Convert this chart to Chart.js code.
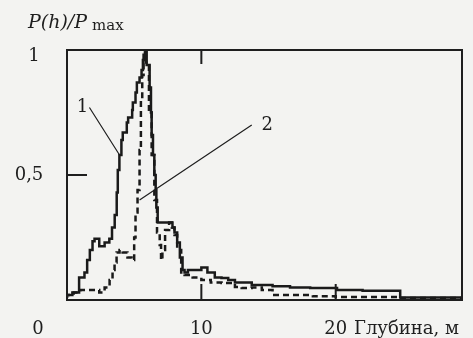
<!DOCTYPE html>
<html>
<head>
<meta charset="utf-8">
<script src="https://cdn.jsdelivr.net/npm/chart.js@4.4.1/dist/chart.umd.min.js"></script>
<style>
  html, body { margin: 0; padding: 0; background: #f3f3f1; }
  #wrap { width: 473px; height: 338px; position: relative; }
</style>
</head>
<body>
<div id="wrap"><canvas id="myChart"></canvas></div>
<script>
'use strict';

// ********** DATA **********

// curve 1 (solid), step values: depth where value starts, P(h)/Pmax
let solidDepth = [0, 0.4, 0.9, 1.3, 1.5, 1.7, 1.9, 2.05, 2.4, 2.8, 3.15, 3.35, 3.55, 3.7, 3.78, 3.9,
  4.05, 4.15, 4.45, 4.55, 4.85, 4.9, 5.1, 5.2, 5.4, 5.55, 5.65, 5.8, 5.87, 5.93, 6.15, 6.25, 6.3,
  6.4, 6.5, 6.6, 6.65, 6.75, 6.9, 7.85, 8.0, 8.2, 8.4, 8.6, 8.75, 9.0, 10.0, 10.45, 11.0, 11.5,
  12.0, 12.5, 13.75, 15.3, 16.6, 18.1, 20.1, 22.0, 24.8, 25.2, 29.4];
let solidValue = [0.01, 0.02, 0.03, 0.09, 0.11, 0.16, 0.2, 0.235, 0.245, 0.215, 0.23, 0.245, 0.29, 0.34, 0.43, 0.52,
  0.58, 0.64, 0.67, 0.71, 0.73, 0.76, 0.79, 0.83, 0.87, 0.89, 0.92, 0.96, 0.99, 1.0, 0.94, 0.85, 0.75,
  0.66, 0.58, 0.5, 0.44, 0.37, 0.31, 0.31, 0.29, 0.27, 0.23, 0.17, 0.12, 0.11, 0.12, 0.13, 0.11, 0.09,
  0.088, 0.08, 0.07, 0.06, 0.055, 0.05, 0.048, 0.04, 0.037, 0.01, 0.01];

// curve 2 (dashed)
let dashDepth = [0, 0.5, 1.0, 2.4, 2.8, 3.17, 3.39, 3.54, 3.69, 3.91, 4.14, 4.5, 4.8, 5.0, 5.1, 5.25,
  5.4, 5.5, 5.6, 5.7, 5.85, 6.1, 6.3, 6.5, 6.7, 6.9, 7.0, 7.1, 7.3, 7.6, 7.8, 8.0, 8.2, 8.5, 8.75,
  9.35, 10.0, 10.7, 11.5, 12.5, 13.0, 13.75, 14.5, 15.3, 15.6, 17.1, 18.3, 20.0, 21.3, 24.6, 25.0, 29.4];
let dashValue = [0.008, 0.02, 0.03, 0.04, 0.03, 0.05, 0.08, 0.12, 0.15, 0.19, 0.2, 0.19, 0.17, 0.16, 0.25, 0.35,
  0.44, 0.6, 0.8, 0.9, 1.0, 0.95, 0.75, 0.58, 0.4, 0.27, 0.22, 0.16, 0.2, 0.28, 0.31, 0.29, 0.26, 0.2, 0.11,
  0.1, 0.09, 0.08, 0.07, 0.068, 0.052, 0.048, 0.05, 0.04, 0.02, 0.02, 0.02, 0.015, 0.012, 0.012, 0.008, 0.008];

// tick labels
let xTicks = [0, 10, 20];
let yTicks = [0.5, 1];
let yTickText = ['0,5', '1'];
let xTitle = 'Глубина, м';

// ********** HELPER FUNCTIONS **********

function toPoints(xs, ys) {
  let pts = [];
  for (let i = 0; i < xs.length; i++) {
    pts.push({x: xs[i], y: ys[i]});
  }
  return pts;
}

// frame, inner ticks, labels and pointers
const framePlugin = {
  id: 'frame',
  afterDatasetsDraw(chart) {
    let ctx = chart.ctx;
    let a = chart.chartArea;
    let sx = chart.scales.x;
    let sy = chart.scales.y;
    ctx.save();
    ctx.strokeStyle = '#1e1e1e';
    ctx.lineWidth = 2;
    ctx.strokeRect(a.left, a.top, a.right - a.left, a.bottom - a.top);

    // inner tick marks
    ctx.beginPath();
    [10, 20].forEach(v => {
      let px = sx.getPixelForValue(v);
      ctx.moveTo(px, a.bottom); ctx.lineTo(px, a.bottom - 16);
    });
    let tx = sx.getPixelForValue(10);
    ctx.moveTo(tx, a.top); ctx.lineTo(tx, a.top + 14);
    let ty = sy.getPixelForValue(0.5);
    ctx.moveTo(a.left, ty); ctx.lineTo(a.left + 20, ty);
    ctx.stroke();

    // pointer lines for curve labels
    ctx.lineWidth = 1.2;
    ctx.beginPath();
    ctx.moveTo(sx.getPixelForValue(1.67), sy.getPixelForValue(0.77));
    ctx.lineTo(sx.getPixelForValue(3.91), sy.getPixelForValue(0.58));
    ctx.moveTo(sx.getPixelForValue(5.4), sy.getPixelForValue(0.40));
    ctx.lineTo(sx.getPixelForValue(13.75), sy.getPixelForValue(0.70));
    ctx.stroke();

    ctx.fillStyle = '#1e1e1e';
    ctx.textBaseline = 'middle';
    ctx.textAlign = 'center';
    ctx.font = '18px "DejaVu Serif"';
    ctx.fillText('1', sx.getPixelForValue(1.16), sy.getPixelForValue(0.77));
    ctx.fillText('2', sx.getPixelForValue(14.9), sy.getPixelForValue(0.70));

    // x tick labels (the 0 sits left of the axis in the original)
    xTicks.forEach(v => {
      let px = sx.getPixelForValue(v);
      if (v === 0) px -= 29;
      ctx.fillText(String(v), px, a.bottom + 29);
    });
    ctx.textAlign = 'left';
    ctx.font = '18px "DejaVu Serif"';
    ctx.fillText(xTitle, 354, a.bottom + 29);

    // y tick labels
    ctx.textAlign = 'center';
    ctx.font = '18px "DejaVu Serif"';
    ctx.fillText(yTickText[0], 29, sy.getPixelForValue(yTicks[0]));
    ctx.fillText(yTickText[1], 34, sy.getPixelForValue(yTicks[1]) + 6);

    // axis title
    ctx.textAlign = 'left';
    ctx.textBaseline = 'alphabetic';
    ctx.font = 'italic 19px "DejaVu Serif"';
    ctx.fillText('P(h)/P', 28, 28);
    let w = ctx.measureText('P(h)/P').width;
    ctx.font = '15px "DejaVu Serif"';
    ctx.fillText('max', 28 + w + 5, 30);
    ctx.restore();
  }
};

// ********** CHART **********

let chartData = {
  type: 'line',
  data: {
    datasets: [
      {label: '1',
        data: toPoints(solidDepth, solidValue),
        stepped: 'after',
        borderColor: '#1a1a1a',
        borderWidth: 2.5,
        pointRadius: 0,
        fill: false
      },
      {label: '2',
        data: toPoints(dashDepth, dashValue),
        stepped: 'after',
        borderColor: '#1a1a1a',
        borderWidth: 2.5,
        borderDash: [6, 4],
        pointRadius: 0,
        fill: false
      }]
  },
  options: {
    responsive: false,
    animation: false,
    layout: {padding: {left: 67, right: 11, top: 50, bottom: 38}},
    plugins: {legend: {display: false}, tooltip: {enabled: false}},
    scales: {
      x: {type: 'linear', min: 0, max: 29.4, display: false},
      y: {type: 'linear', min: 0, max: 1, display: false}
    }
  },
  plugins: [framePlugin]
};

let canvas = document.querySelector('#myChart');
canvas.width = 473;
canvas.height = 338;
new Chart(canvas, chartData);
</script>
</body>
</html>
